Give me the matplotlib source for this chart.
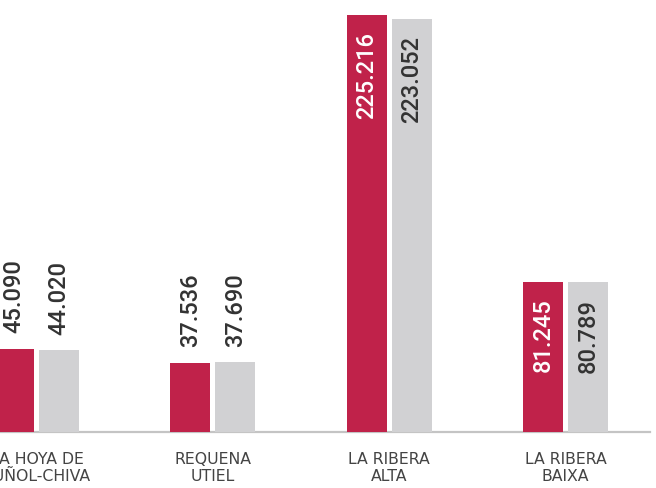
import matplotlib
matplotlib.use("Agg")
import matplotlib.pyplot as plt
import numpy as np

categories = ["LA HOYA DE\nBUÑOL-CHIVA", "REQUENA\nUTIEL", "LA RIBERA\nALTA", "LA RIBERA\nBAIXA"]
series_a = [45090, 37536, 225216, 81245]
series_b = [44020, 37690, 223052, 80789]

RED = "#c0224a"
GRAY = "#d1d1d3"
TXT = "#333333"

def fmt(v):
    return f"{v:,}".replace(",", ".")

W, H = 656, 488
fig = plt.figure(figsize=(W / 100, H / 100), dpi=100)
base_px = 56
ax = fig.add_axes([0, base_px / H, 1, 1 - base_px / H])

spacing = 176.3
first = 36.5
x = np.arange(len(categories))
bw = 40 / spacing
off = 22.5 / spacing

ax.bar(x - off, series_a, width=bw, color=RED, linewidth=0)
ax.bar(x + off, series_b, width=bw, color=GRAY, linewidth=0)

ax.set_xlim(-first / spacing, (W - first) / spacing)
ax.set_ylim(0, 225216 * 432 / 417)
ax.axis("off")

# baseline
ax.plot([0, 650 / W], [0, 0], transform=ax.transAxes, color="#c4c4c4", lw=1.6, clip_on=False, zorder=0)

inside_threshold = 60000
fs = 17
vfont = ["Roboto", "DejaVu Sans"]
for xs, vals, is_red in ((x - off, series_a, True), (x + off, series_b, False)):
    for xi, v in zip(xs, vals):
        if v > inside_threshold:
            color = "white" if is_red else TXT
            ax.annotate(fmt(v), (xi, v), xytext=(0, -12), textcoords="offset points",
                        rotation=90, ha="center", va="top", fontsize=fs, color=color,
                        fontweight="medium", family=vfont)
        else:
            ax.annotate(fmt(v), (xi, v), xytext=(0, 11), textcoords="offset points",
                        rotation=90, ha="center", va="bottom", fontsize=fs, color=TXT,
                        fontweight="medium", family=vfont)

for xi, c in zip(x, categories):
    ax.annotate(c, (xi, 0), xytext=(0, -14.5), textcoords="offset points",
                ha="center", va="top", fontsize=11.3, color="#444444",
                linespacing=1.15, family="DejaVu Sans")

fig.savefig("out.png", dpi=100)
